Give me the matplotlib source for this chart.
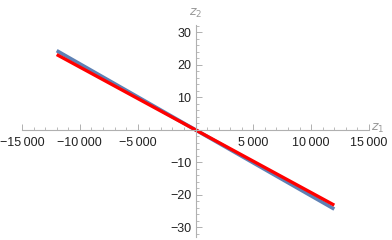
import numpy as np
import matplotlib
matplotlib.use('Agg')
import matplotlib.pyplot as plt
from matplotlib.ticker import MultipleLocator, FixedLocator

plt.rcParams['font.family'] = ['Liberation Sans', 'DejaVu Sans']

# data
z1 = [-12000, 12000]
blue_z2 = [24.4, -24.4]
red_z2 = [23.2, -23.2]

x_ticks = [-15000, -10000, -5000, 5000, 10000, 15000]
y_ticks = [-30, -20, -10, 10, 20, 30]


def fmt_x(v):
    s = f'{abs(v):,}'.replace(',', '\u2009')
    return ('\u2212' if v < 0 else '') + s


def fmt_y(v):
    return ('\u2212' if v < 0 else '') + str(abs(v))


fig = plt.figure(figsize=(3.92, 2.40), dpi=100)
ax = fig.add_axes([22 / 392, 3 / 240, 347 / 392, 212 / 240])

ax.plot(z1, blue_z2, color='#5E81B5', lw=2.6, solid_capstyle='butt')
ax.plot(z1, red_z2, color='#FF0000', lw=2.4, solid_capstyle='butt')

ax.set_xlim(-15000, 15000)
ax.set_ylim(-33, 32.3)

for side in ['top', 'right']:
    ax.spines[side].set_visible(False)
ax.spines['left'].set_position(('data', 0))
ax.spines['bottom'].set_position(('data', 0))
for side in ['left', 'bottom']:
    ax.spines[side].set_color('#B0B0B0')
    ax.spines[side].set_linewidth(0.8)

ax.xaxis.set_major_locator(FixedLocator(x_ticks))
ax.xaxis.set_minor_locator(MultipleLocator(1000))
ax.yaxis.set_major_locator(FixedLocator(y_ticks))
ax.yaxis.set_minor_locator(MultipleLocator(2))
ax.set_xticklabels([fmt_x(v) for v in x_ticks])
ax.set_yticklabels([fmt_y(v) for v in y_ticks])

ax.tick_params(which='major', direction='in', length=4, width=0.7, color='#B0B0B0',
               labelsize=9, labelcolor='#222222', pad=3)
ax.tick_params(axis='x', which='major', pad=5)
ax.tick_params(which='minor', direction='in', length=2, width=0.6, color='#B0B0B0')

ax.text(15150, 0.3, '$z_1$', color='#999999', fontsize=9, ha='left', va='center',
        clip_on=False)
ax.text(0, 33.8, '$z_2$', color='#999999', fontsize=9, ha='center', va='bottom',
        clip_on=False)

fig.savefig('out.png', dpi=100)
